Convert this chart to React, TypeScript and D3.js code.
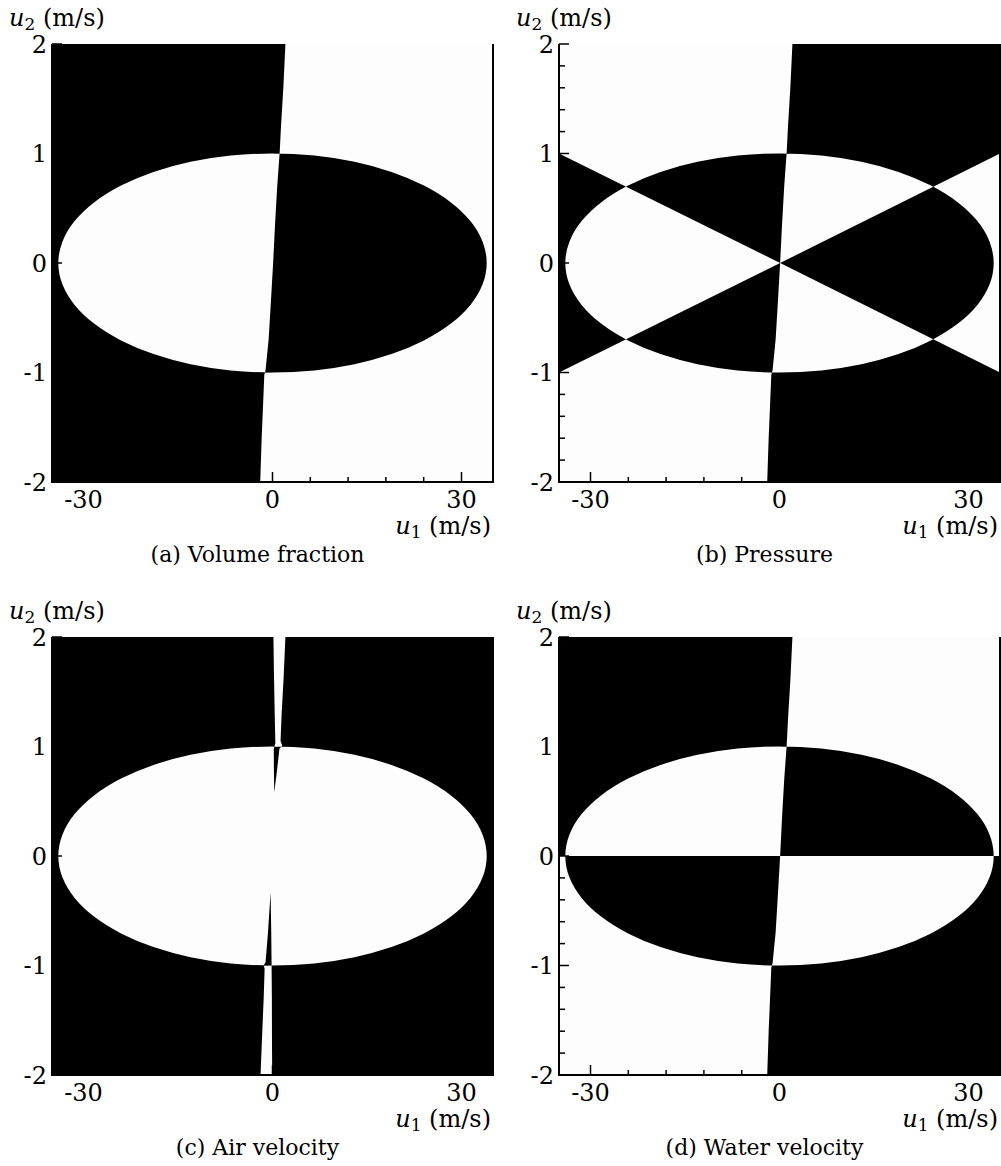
import React from "react";
import * as d3 from "d3";

// Axis extents and ticks (u1 in m/s horizontally, u2 in m/s vertically)
const u1Domain: [number, number] = [-35, 35];
const u2Domain: [number, number] = [-2, 2];
const u1Ticks = [-30, -24, -18, -12, -6, 0, 6, 12, 18, 24, 30];
const u1MajorTicks = [-30, 0, 30];
const u1TickLabels = ["-30", "0", "30"];
const u2Ticks = [-2, -1.8, -1.6, -1.4, -1.2, -1, -0.8, -0.6, -0.4, -0.2, 0, 0.2, 0.4, 0.6, 0.8, 1, 1.2, 1.4, 1.6, 1.8, 2];
const u2MajorTicks = [-2, -1, 0, 1, 2];
const u2TickLabels = ["-2", "-1", "0", "1", "2"];

// Sonic ellipse semi-axes [u1, u2]
const ellipseAxes: [number, number] = [34, 1];

// Contact curve, listed top to bottom as [u2, u1]
const contactCurve: [number, number][] = [
  [2.0, 2.05], [1.6, 1.72], [1.25, 1.35], [1.02, 1.15], [0.98, 1.1],
  [0.7, 0.75], [0.35, 0.4], [0.0, 0.1], [-0.4, -0.3], [-0.7, -0.62],
  [-0.98, -1.1], [-1.02, -1.3], [-1.3, -1.5], [-1.6, -1.72], [-2.0, -1.95],
];

// Pressure wedges: apex and the two border ends on each side, [u1, u2]
const wedgeApex: [number, number] = [0.1, 0];
const wedgeLeftEnds: [number, number][] = [[-35, 1], [-35, -1]];
const wedgeRightEnds: [number, number][] = [[35, 1], [35, -1]];

// Air-velocity strips along the contact, closed outlines as [u2, u1]
const airStripUpper: [number, number][] = [
  [2.0, 2.05], [1.6, 1.74], [1.3, 1.45], [1.05, 1.28], [1.01, 1.55],
  [0.98, 1.1], [0.8, 0.75], [0.58, 0.28], [0.8, 0.22], [0.98, 0.2],
  [1.03, 0.45], [1.3, 0.35], [1.7, 0.22], [2.0, 0.15],
];
const airStripLower: [number, number][] = [
  [-0.33, -0.3], [-0.7, -0.2], [-0.98, -0.15], [-1.3, -0.1], [-1.7, -0.08],
  [-2.0, -0.05], [-2.0, -1.9], [-1.6, -1.62], [-1.3, -1.4], [-1.03, -1.25],
  [-1.0, -1.4], [-0.97, -1.1], [-0.7, -0.72],
];

const captions = ["(a) Volume fraction", "(b) Pressure", "(c) Air velocity", "(d) Water velocity"];

const panelLeft = [52, 559];
const panelTop = [44, 637];
const panelW = 441;
const panelH = 438;

const FONT = "'DejaVu Serif', serif";

type Piece = "left" | "right" | "ellipse" | "wedges" | "lowerHalf" | "full" | "airStrips";
const panelPieces: Piece[][] = [
  ["left", "ellipse"],
  ["right", "ellipse", "wedges"],
  ["full", "ellipse", "airStrips"],
  ["left", "ellipse", "lowerHalf"],
];

function Panel({ idx }: { idx: number }) {
  const x0 = panelLeft[idx % 2];
  const y0 = panelTop[Math.floor(idx / 2)];
  const x = d3.scaleLinear().domain(u1Domain).range([x0, x0 + panelW]);
  const y = d3.scaleLinear().domain(u2Domain).range([y0 + panelH, y0]);
  const line = d3
    .line<[number, number]>()
    .x((d) => x(d[0]))
    .y((d) => y(d[1]));
  const poly = (pts: [number, number][]) => line(pts) + "Z";
  const curveXY: [number, number][] = contactCurve.map(([v, u]) => [u, v]);
  const [lo, hi] = u1Domain;
  const [blo, bhi] = u2Domain;

  const parts: string[] = [];
  for (const p of panelPieces[idx]) {
    if (p === "left") parts.push(poly([[lo, bhi], ...curveXY, [lo, blo]]));
    if (p === "right") parts.push(poly([[hi, bhi], ...curveXY, [hi, blo]]));
    if (p === "full") parts.push(poly([[lo, bhi], [hi, bhi], [hi, blo], [lo, blo]]));
    if (p === "lowerHalf") parts.push(poly([[lo, 0], [hi, 0], [hi, blo], [lo, blo]]));
    if (p === "wedges") {
      parts.push(poly([wedgeApex, ...wedgeLeftEnds]));
      parts.push(poly([wedgeApex, ...wedgeRightEnds]));
    }
    if (p === "airStrips") {
      parts.push(poly(airStripUpper.map(([v, u]) => [u, v] as [number, number])));
      parts.push(poly(airStripLower.map(([v, u]) => [u, v] as [number, number])));
    }
    if (p === "ellipse") {
      const rx = x(ellipseAxes[0]) - x(0);
      const ry = y(0) - y(ellipseAxes[1]);
      const cx = x(0);
      const cy = y(0);
      parts.push(
        `M${cx - rx},${cy}A${rx},${ry} 0 1 0 ${cx + rx},${cy}A${rx},${ry} 0 1 0 ${cx - rx},${cy}Z`
      );
    }
  }

  const left = x(lo);
  const right = x(hi);
  const bottom = y(blo);
  const top = y(bhi);

  return (
    <g>
      <rect x={left} y={top} width={right - left} height={bottom - top} fill="#fdfdfd" />
      <path d={parts.join("")} fill="#000" fillRule="evenodd" />
      {/* inward ticks */}
      {u1Ticks.map((t) => {
        const len = u1MajorTicks.includes(t) ? 10 : 5;
        return <line key={"xt" + t} x1={x(t)} x2={x(t)} y1={bottom} y2={bottom - len} stroke="#000" strokeWidth={1.5} />;
      })}
      {u2Ticks.map((t) => {
        const len = u2MajorTicks.includes(t) ? 10 : 6;
        return <line key={"yt" + t} x1={left} x2={left + len} y1={y(t)} y2={y(t)} stroke="#000" strokeWidth={1.5} />;
      })}
      {/* frame */}
      <line x1={left} x2={left} y1={top} y2={bottom + 1} stroke="#000" strokeWidth={2} />
      <line x1={left - 1} x2={right + 1} y1={bottom} y2={bottom} stroke="#000" strokeWidth={2} />
      <line x1={right} x2={right} y1={top} y2={bottom} stroke="#000" strokeWidth={2} />
      {/* tick labels */}
      {u2MajorTicks.map((t, i) => (
        <text key={"yl" + t} x={left - 5} y={y(t) + 8.5} textAnchor="end" fontFamily={FONT} fontSize={24}>
          {u2TickLabels[i]}
        </text>
      ))}
      {u1MajorTicks.map((t, i) => (
        <text key={"xl" + t} x={x(t)} y={bottom + 26} textAnchor="middle" fontFamily={FONT} fontSize={24}>
          {u1TickLabels[i]}
        </text>
      ))}
      {/* axis titles */}
      <text x={left - 43} y={top - 18} fontFamily={FONT} fontSize={24}>
        <tspan fontStyle="italic">u</tspan>
        <tspan fontSize={17} dy={4}>2</tspan>
        <tspan dy={-4}> (m/s)</tspan>
      </text>
      <text x={right - 2} y={bottom + 52} textAnchor="end" fontFamily={FONT} fontSize={24}>
        <tspan fontStyle="italic">u</tspan>
        <tspan fontSize={17} dy={4}>1</tspan>
        <tspan dy={-4}> (m/s)</tspan>
      </text>
      <text x={(left + right) / 2 - 15} y={bottom + 80} textAnchor="middle" fontFamily={FONT} fontSize={22}>
        {captions[idx]}
      </text>
    </g>
  );
}

export default function App() {
  return (
    <svg
      width={1001}
      height={1166}
      style={{ position: "absolute", left: 0, top: 0, display: "block", background: "#fff" }}
    >
      {[0, 1, 2, 3].map((i) => (
        <Panel key={i} idx={i} />
      ))}
    </svg>
  );
}
